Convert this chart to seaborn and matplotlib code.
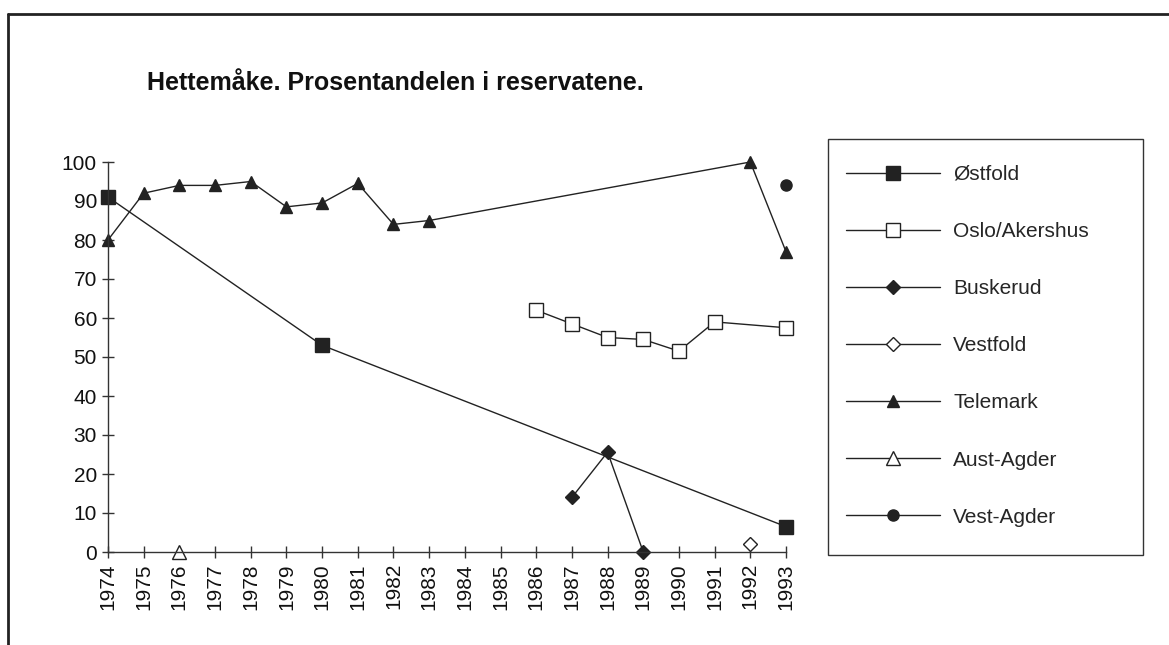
import numpy as np
import pandas as pd
import matplotlib
matplotlib.use("Agg")
import matplotlib.pyplot as plt
import seaborn as sns
from matplotlib.lines import Line2D
from matplotlib.patches import Rectangle

# --- data (per cent in reserves) ---
years = list(range(1974, 1994))

ostfold_years = [1974, 1980, 1993]
ostfold_vals = [91, 53, 6.5]

oslo_years = [1986, 1987, 1988, 1989, 1990, 1991, 1993]
oslo_vals = [62, 58.5, 55, 54.5, 51.5, 59, 57.5]

buskerud_years = [1987, 1988, 1989]
buskerud_vals = [14, 25.6, 0]

vestfold_years = [1992]
vestfold_vals = [2]

telemark_years = [1974, 1975, 1976, 1977, 1978, 1979, 1980, 1981, 1982, 1983, 1992, 1993]
telemark_vals = [80, 92, 94, 94, 95, 88.5, 89.5, 94.5, 84, 85, 100, 77]

austagder_years = [1976]
austagder_vals = [0]

vestagder_years = [1993]
vestagder_vals = [94.2]

series = [
    ("Østfold", ostfold_years, ostfold_vals),
    ("Oslo/Akershus", oslo_years, oslo_vals),
    ("Buskerud", buskerud_years, buskerud_vals),
    ("Vestfold", vestfold_years, vestfold_vals),
    ("Telemark", telemark_years, telemark_vals),
    ("Aust-Agder", austagder_years, austagder_vals),
    ("Vest-Agder", vestagder_years, vestagder_vals),
]

styles = {
    "Østfold": dict(marker="s", markersize=9.5, markerfacecolor="#222222"),
    "Oslo/Akershus": dict(marker="s", markersize=10, markerfacecolor="white"),
    "Buskerud": dict(marker="D", markersize=7, markerfacecolor="#222222"),
    "Vestfold": dict(marker="D", markersize=7, markerfacecolor="white"),
    "Telemark": dict(marker="^", markersize=9, markerfacecolor="#222222"),
    "Aust-Agder": dict(marker="^", markersize=10, markerfacecolor="white"),
    "Vest-Agder": dict(marker="o", markersize=8, markerfacecolor="#222222"),
}

sns.set_theme(style="ticks")
plt.rcParams["font.family"] = ["Liberation Sans", "DejaVu Sans"]

W, H = 1169, 645
fig = plt.figure(figsize=(W / 100, H / 100), dpi=100)
fig.patch.set_facecolor("white")

ax = fig.add_axes([108 / W, 1 - 552 / H, (786 - 108) / W, (552 - 162) / H])
ax.set_facecolor("white")

for name, xs, vs in series:
    df = pd.DataFrame({"year": xs, "value": vs})
    sns.lineplot(data=df, x="year", y="value", ax=ax, color="#222222",
                 linewidth=1.0, markeredgecolor="#222222", markeredgewidth=1.0,
                 clip_on=False, label=name, **styles[name])

ax.set_xlim(1974, 1993)
ax.set_ylim(0, 100)
ax.set_xticks(years)
ax.set_xticklabels([str(y) for y in years], rotation=90)
ax.set_yticks(range(0, 101, 10))
ax.set_xlabel("")
ax.set_ylabel("")
ax.tick_params(axis="both", direction="inout", length=8, width=1.0,
               color="#333333", labelsize=15, labelcolor="#111111", pad=4)
sns.despine(ax=ax)
for sp in ["left", "bottom"]:
    ax.spines[sp].set_color("#333333")
    ax.spines[sp].set_linewidth(1.0)

handles, labels = ax.get_legend_handles_labels()
ax.get_legend().remove()
fig.legend(handles, labels, loc="upper left",
           bbox_to_anchor=(846 / W, 1 - 165 / H), frameon=False,
           fontsize=15, handlelength=4.5, handletextpad=0.65,
           labelspacing=1.83, borderpad=0, borderaxespad=0)

# legend box and outer frame
fig.add_artist(Rectangle((828 / W, 1 - 555 / H), (1143 - 828) / W, (555 - 139) / H,
                         transform=fig.transFigure, fill=False,
                         edgecolor="#333333", linewidth=1.0))
fig.add_artist(Line2D([8 / W, 8 / W], [0, 1 - 14 / H], transform=fig.transFigure,
                      color="#222222", linewidth=2.0))
fig.add_artist(Line2D([8 / W, 1], [1 - 14 / H, 1 - 14 / H], transform=fig.transFigure,
                      color="#222222", linewidth=2.0))

fig.text(147 / W, 1 - 83 / H, "Hettemåke. Prosentandelen i reservatene.",
         fontsize=18, fontweight="bold", va="center", ha="left", color="#111111")

fig.savefig("out.png", dpi=100, facecolor="white")
